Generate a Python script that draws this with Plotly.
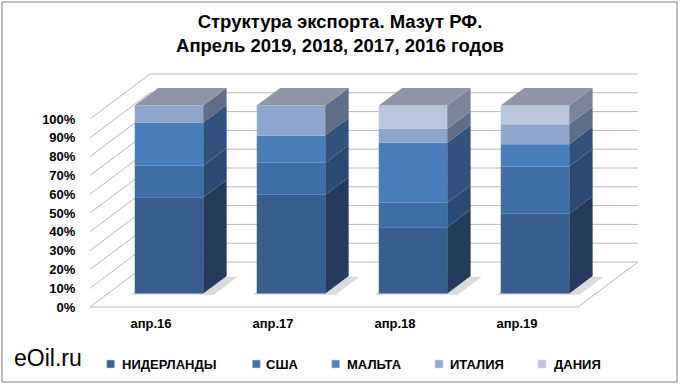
import plotly.graph_objects as go

# ---------------- data ----------------
categories = ["апр.16", "апр.17", "апр.18", "апр.19"]
series_names = ["НИДЕРЛАНДЫ", "США", "МАЛЬТА", "ИТАЛИЯ", "ДАНИЯ"]
netherlands = [51.2, 52.5, 35.3, 42.4]
usa = [16.8, 17.0, 13.0, 25.2]
malta = [23.0, 14.5, 31.9, 11.8]
italy = [9.0, 16.0, 7.4, 10.6]
denmark = [0.0, 0.0, 12.4, 10.0]
y_ticks = [0, 10, 20, 30, 40, 50, 60, 70, 80, 90, 100]
y_tick_labels = ["0%", "10%", "20%", "30%", "40%", "50%", "60%", "70%", "80%", "90%", "100%"]
series_values = [netherlands, usa, malta, italy, denmark]

# ---------------- style / geometry ----------------
front_colors = ["#375E8D", "#3F6EA5", "#4A7EBB", "#8EA5CD", "#B9C6E0"]
side_colors = ["#243B5B", "#2A4A72", "#30527C", "#5E6D8A", "#7B8599"]
legend_colors = ["#3A6392", "#4471A8", "#4F82BE", "#93A9CF", "#BCC8E0"]
top_color = "#8D95A7"
grid_color = "#B8B8B8"
FONT = "Liberation Sans, Arial, sans-serif"

W, H = 680, 385
ML, MR, MT, MB = 90, 30, 60, 71
PX_X = 122.0          # px per category
PX_Y = 1.88           # px per percent
FRONT_ZERO_PX = 307   # pixel row of 0% at front plane
DX = 60.0 / PX_X      # full depth x shift (data units)
DY = 45.0 / PX_Y      # full depth y shift (data units)
Z0, Z1 = 0.30, 0.69   # bar depth span
BAR_W = 68.5 / PX_X

plot_w = W - ML - MR
plot_h = H - MT - MB
x_min = -0.5
x_max = x_min + plot_w / PX_X
y_min = (FRONT_ZERO_PX - (H - MB)) / PX_Y
y_max = (FRONT_ZERO_PX - MT) / PX_Y
n = len(categories)


def px_to_paper(px, py):
    return (px - ML) / plot_w, ((H - MB) - py) / plot_h


fig = go.Figure()
shapes = []

# walls / floor gridlines (below traces)
for v in y_ticks:
    shapes.append(dict(type="line", xref="x", yref="y", layer="below",
                       x0=x_min, y0=v, x1=x_min + DX, y1=v + DY,
                       line=dict(color=grid_color, width=1)))
    shapes.append(dict(type="line", xref="x", yref="y", layer="below",
                       x0=x_min + DX, y0=v + DY, x1=n - 0.5 + DX, y1=v + DY,
                       line=dict(color=grid_color, width=1)))
shapes.append(dict(type="line", xref="x", yref="y", layer="below",
                   x0=x_min, y0=0, x1=n - 0.5, y1=0,
                   line=dict(color=grid_color, width=1)))
shapes.append(dict(type="line", xref="x", yref="y", layer="below",
                   x0=n - 0.5, y0=0, x1=n - 0.5 + DX, y1=DY,
                   line=dict(color=grid_color, width=1)))

# bar shadows on the floor
for i in range(n):
    xl = i - BAR_W / 2 - 0.02
    xr = i + BAR_W / 2 + 0.10
    za, zb = Z0 - 0.03, Z1 - 0.02
    pts = [(xl + za * DX, za * DY), (xr + za * DX, za * DY),
           (xr + zb * DX, zb * DY), (xl + zb * DX, zb * DY)]
    path = "M " + " L ".join(f"{a},{b}" for a, b in pts) + " Z"
    shapes.append(dict(type="path", xref="x", yref="y", layer="below", path=path,
                       fillcolor="#DADADA", line=dict(width=0)))

# front faces (stacked bars)
cum = [0.0] * n
bases = []
for s, vals in enumerate(series_values):
    bases.append(list(cum))
    fig.add_trace(go.Bar(
        x=[i + Z0 * DX for i in range(n)],
        y=vals,
        base=[c + Z0 * DY for c in cum],
        width=BAR_W,
        marker=dict(color=front_colors[s], line=dict(width=0)),
        name=series_names[s],
        showlegend=False,
        hoverinfo="skip",
    ))
    cum = [c + v for c, v in zip(cum, vals)]

# side faces
dz = Z1 - Z0
for s, vals in enumerate(series_values):
    for i in range(n):
        if vals[i] <= 0:
            continue
        xr = i + Z0 * DX + BAR_W / 2
        b0 = bases[s][i] + Z0 * DY
        b1 = b0 + vals[i]
        xs = [xr, xr, xr + dz * DX, xr + dz * DX, xr]
        ys = [b0, b1, b1 + dz * DY, b0 + dz * DY, b0]
        fig.add_trace(go.Scatter(x=xs, y=ys, mode="lines", fill="toself",
                                 fillcolor=side_colors[s], line=dict(width=0),
                                 showlegend=False, hoverinfo="skip"))

# top faces
for i in range(n):
    xl = i + Z0 * DX - BAR_W / 2
    xr = i + Z0 * DX + BAR_W / 2
    t = cum[i] + Z0 * DY
    xs = [xl, xr, xr + dz * DX, xl + dz * DX, xl]
    ys = [t, t, t + dz * DY, t + dz * DY, t]
    fig.add_trace(go.Scatter(x=xs, y=ys, mode="lines", fill="toself",
                             fillcolor=top_color, line=dict(width=0),
                             showlegend=False, hoverinfo="skip"))

# outer border
bx0, by1 = px_to_paper(2, 2)
bx1, by0 = px_to_paper(677, 382)
shapes.append(dict(type="rect", xref="paper", yref="paper", x0=bx0, y0=by0, x1=bx1, y1=by1,
                   line=dict(color="#A8A8A8", width=1.5), fillcolor="rgba(0,0,0,0)"))

# manual legend
annotations = []
marker_px = [106.7, 252.3, 331.7, 435.0, 538.0]
text_px = [119.7, 264.0, 345.0, 448.0, 551.7]
leg_y = 364
for s in range(len(series_names)):
    mx0, my0 = px_to_paper(marker_px[s], leg_y + 4)
    mx1, my1 = px_to_paper(marker_px[s] + 8, leg_y - 4)
    shapes.append(dict(type="rect", xref="paper", yref="paper",
                       x0=mx0, y0=my0, x1=mx1, y1=my1,
                       fillcolor=legend_colors[s], line=dict(color="#D0D8E8", width=0.6)))
    tx, ty = px_to_paper(text_px[s], leg_y)
    annotations.append(dict(xref="paper", yref="paper", x=tx, y=ty, xanchor="left", yanchor="middle",
                            text=series_names[s], showarrow=False,
                            font=dict(family=FONT, size=13, color="#000000", weight=700)))

ex, ey = px_to_paper(12, 358)
annotations.append(dict(xref="paper", yref="paper", x=ex, y=ey, xanchor="left", yanchor="middle",
                        text="eOil.ru", showarrow=False,
                        font=dict(family=FONT, size=23, color="#000000")))

fig.update_layout(
    width=W, height=H,
    margin=dict(l=ML, r=MR, t=MT, b=MB),
    paper_bgcolor="white", plot_bgcolor="white",
    barmode="overlay",
    showlegend=False,
    title=dict(text="Структура экспорта. Мазут РФ.<br>Апрель 2019, 2018, 2017, 2016 годов",
               x=0.5, xref="container", xanchor="center",
               y=1 - 27.5 / H, yref="container", yanchor="middle",
               font=dict(family=FONT, size=18.5, color="#000000", weight=700)),
    xaxis=dict(range=[x_min, x_max], showgrid=False, zeroline=False, showline=False,
               tickvals=list(range(n)), ticktext=categories, ticks="",
               tickfont=dict(family=FONT, size=13, color="#000000", weight=700),
               fixedrange=True),
    yaxis=dict(range=[y_min, y_max], showgrid=False, zeroline=False, showline=False,
               tickvals=y_ticks, ticktext=y_tick_labels, ticks="outside", ticklen=11,
               tickcolor="rgba(0,0,0,0)",
               tickfont=dict(family=FONT, size=13, color="#000000", weight=700),
               fixedrange=True),
    shapes=shapes,
    annotations=annotations,
)

fig.write_html("out.html", config={"displayModeBar": False},
               post_script="document.body.style.margin='0px';")
